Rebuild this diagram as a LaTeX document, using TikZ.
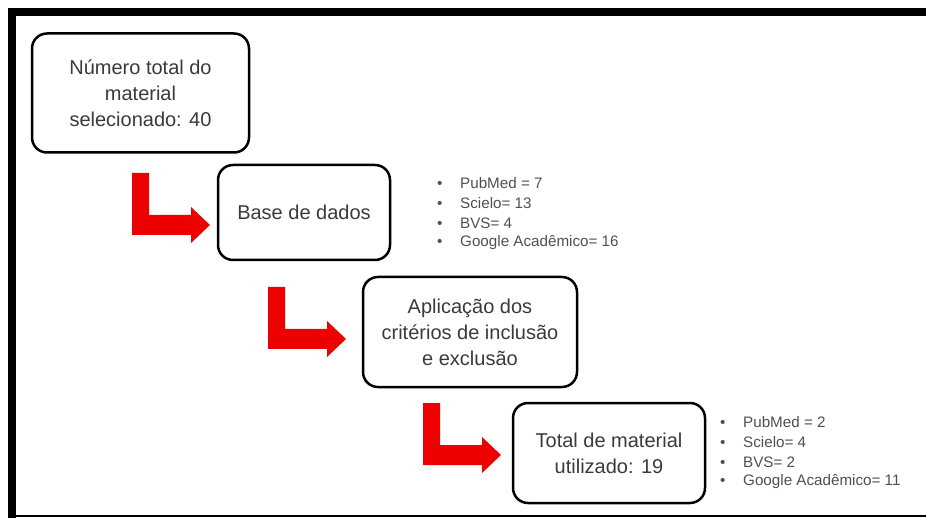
\documentclass[tikz,border=0pt]{standalone}
\usepackage{fontspec}
\setmainfont{Liberation Sans}
\usepackage{tikz}
\usetikzlibrary{positioning}
\definecolor{arrowred}{RGB}{236,0,0}
\definecolor{textgray}{RGB}{58,58,58}
\definecolor{listgray}{RGB}{80,80,80}
\newcommand{\larrow}[1]{
	\fill [arrowred] (#1) -- ++(17,0) -- ++(0,42) -- ++(42,0) -- ++(0,-8) -- ++(19,18) -- ++(-19,18) -- ++(0,-8) -- ++(-59,0) -- cycle;
}
\newcommand{\bulletlist}[3]{
	\foreach \entry [count=\i] in {#3}
		\node [listtext, yshift={-20*(\i-1)}] (#1-\i) at (#2) {\makebox[23pt][l]{\textbullet}\entry};
}

\begin{document}
\begin{tikzpicture}[x=1pt,y=-1pt,
	flowbox/.style={draw=black, line width=2.5pt, rounded corners=15pt, align=center, text=textgray, font=\fontsize{20}{26}\selectfont, inner sep=0pt},
	listtext/.style={anchor=west, inner sep=0pt, text=listgray, font=\fontsize{15.2}{20}\selectfont}]
\useasboundingbox (0,0) rectangle (926,518);
% frame
\fill (8,8) rectangle (926,16);
\fill (8,8) rectangle (16,518);
\draw [line width=1.5pt] (16,516) -- (926,516);

\node [flowbox, minimum width=217, minimum height=119] (total)	at (140.5,93) {Número total do\\material\\selecionado: 40};
\node [flowbox, minimum width=172, minimum height=95] (base)	at (304,212.5) {Base de dados};
\node [flowbox, minimum width=214, minimum height=110] (criterios)	at (470,332) {Aplicação dos\\critérios de inclusão\\e exclusão};
\node [flowbox, minimum width=192, minimum height=100] (usado)	at (609,453) {Total de material\\utilizado: 19};

\coordinate (A) at (132,173);
\coordinate (B) at (268,287);
\coordinate (C) at (423,403);
\larrow{A}
\larrow{B}
\larrow{C}

\bulletlist{db}{437,183}{PubMed = 7, Scielo= 13, BVS= 4, Google Acadêmico= 16}
\bulletlist{fim}{720,422}{PubMed = 2, Scielo= 4, BVS= 2, Google Acadêmico= 11}
\end{tikzpicture}
\end{document}
